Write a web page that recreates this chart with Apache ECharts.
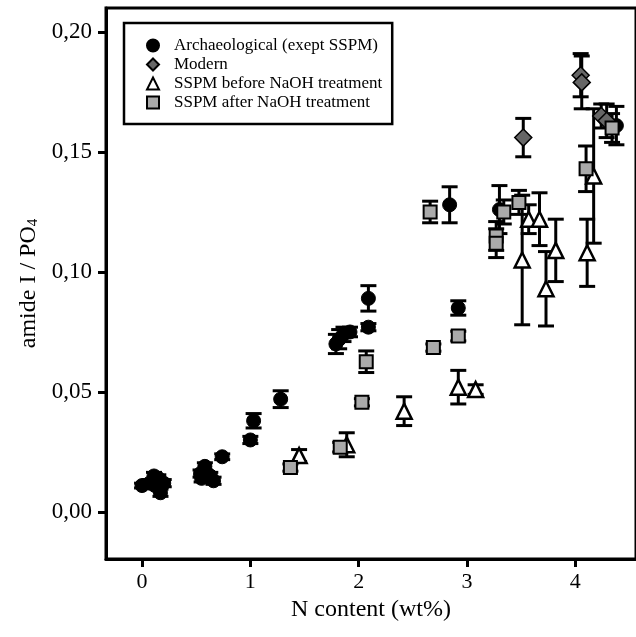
<!DOCTYPE html>
<html>
<head>
<meta charset="utf-8">
<script src="https://cdn.jsdelivr.net/npm/echarts@6/dist/echarts.min.js"></script>
<style>html,body{margin:0;padding:0;background:#fff}#c{width:636px;height:637px}</style>
</head>
<body>
<div id="c"></div>
<script>
// ---- data (N content wt%, amide I / PO4, error) ----
const archX   = [0.00, 0.07, 0.11, 0.15, 0.20, 0.17, 0.12, 0.54, 0.58, 0.55, 0.63, 0.66, 0.74, 1.00, 1.03, 1.28, 1.79, 1.82, 1.86, 1.92, 2.09, 2.09, 2.84, 2.92, 3.30, 4.38];
const archY   = [0.011, 0.012, 0.015, 0.014, 0.012, 0.008, 0.011, 0.016, 0.019, 0.014, 0.015, 0.013, 0.023, 0.030, 0.038, 0.047, 0.070, 0.072, 0.074, 0.075, 0.077, 0.089, 0.128, 0.085, 0.126, 0.161];
const archErr = [0.001, 0.0015, 0.0015, 0.0015, 0.0015, 0.0015, 0.001, 0.0015, 0.0015, 0.0015, 0.0015, 0.0015, 0.0012, 0.0015, 0.003, 0.0035, 0.004, 0.004, 0.003, 0.002, 0.0015, 0.0053, 0.0075, 0.003, 0.010, 0.008];

const modX   = [4.05, 4.06, 3.52, 4.24, 4.29];
const modY   = [0.182, 0.179, 0.156, 0.165, 0.163];
const modErr = [0.009, 0.011, 0.008, 0.005, 0.007];

const befX   = [1.45, 1.89, 2.42, 2.92, 3.08, 3.51, 3.57, 3.67, 3.73, 3.82, 4.11, 4.17];
const befY   = [0.0235, 0.028, 0.042, 0.052, 0.051, 0.105, 0.122, 0.122, 0.093, 0.109, 0.108, 0.140];
const befErr = [0.0025, 0.005, 0.006, 0.007, 0.002, 0.027, 0.006, 0.011, 0.0155, 0.013, 0.014, 0.028];

const aftX   = [1.37, 1.83, 2.03, 2.07, 2.66, 2.69, 2.92, 3.27, 3.27, 3.34, 3.48, 4.10, 4.34];
const aftY   = [0.0185, 0.027, 0.0457, 0.0626, 0.125, 0.0685, 0.0733, 0.115, 0.112, 0.125, 0.129, 0.143, 0.160];
const aftErr = [0.0015, 0.002, 0.0015, 0.0045, 0.0045, 0.0015, 0.002, 0.006, 0.006, 0.005, 0.005, 0.0095, 0.006];

const seriesNames = ['Archaeological (exept SSPM)', 'Modern', 'SSPM before NaOH treatment', 'SSPM after NaOH treatment'];
const xTickValues = [0, 1, 2, 3, 4];
const xTickLabels = ['0', '1', '2', '3', '4'];
const yTickValues = [0, 0.05, 0.10, 0.15, 0.20];
const yTickLabels = ['0,00', '0,05', '0,10', '0,15', '0,20'];

const FONT = "'Liberation Serif','Times New Roman',serif";

function rows(xs, ys, es) { return xs.map((x, i) => [x, ys[i], es[i]]); }

function errSeries(name, data) {
  return {
    name: name + ' err', type: 'custom', data: data,
    encode: { x: 0, y: 1 },
    z: 2,
    renderItem: function (params, api) {
      const x = api.value(0), y = api.value(1), e = api.value(2);
      const top = api.coord([x, y + e]);
      const bot = api.coord([x, y - e]);
      const w = 8;
      const st = { stroke: '#000', lineWidth: 3 };
      return {
        type: 'group',
        children: [
          { type: 'line', shape: { x1: top[0], y1: top[1], x2: bot[0], y2: bot[1] }, style: st },
          { type: 'line', shape: { x1: top[0] - w, y1: top[1], x2: top[0] + w, y2: top[1] }, style: st },
          { type: 'line', shape: { x1: bot[0] - w, y1: bot[1], x2: bot[0] + w, y2: bot[1] }, style: st }
        ]
      };
    }
  };
}

const groups = [
  { data: rows(archX, archY, archErr), symbol: 'circle', size: 14, color: '#000', border: '#000', bw: 1 },
  { data: rows(modX, modY, modErr), symbol: 'diamond', size: 17, color: '#666', border: '#000', bw: 1.5 },
  { data: rows(befX, befY, befErr), symbol: 'triangle', size: 15, color: '#fff', border: '#000', bw: 2.5 },
  { data: rows(aftX, aftY, aftErr), symbol: 'rect', size: 13, color: '#aaa', border: '#000', bw: 2 }
];

const series = [];
groups.forEach((g, i) => {
  series.push(errSeries(seriesNames[i], g.data));
  series.push({
    name: seriesNames[i], type: 'scatter', data: g.data.map(r => [r[0], r[1]]),
    symbol: g.symbol, symbolSize: g.size, z: 3 + i,
    itemStyle: { color: g.color, borderColor: g.border, borderWidth: g.bw, opacity: 1 }
  });
});

const chart = echarts.init(document.getElementById('c'), null, { renderer: 'canvas' });
chart.setOption({
  animation: false,
  backgroundColor: '#fff',
  textStyle: { fontFamily: FONT },
  grid: { left: 106, top: 8, right: -4, bottom: 78, show: true, borderColor: '#000', borderWidth: 3, backgroundColor: 'transparent' },
  legend: {
    data: seriesNames, orient: 'vertical', left: 124, top: 23,
    backgroundColor: '#fff', borderColor: '#000', borderWidth: 2.5, borderRadius: 0,
    padding: [14, 10, 13, 22], itemWidth: 12, itemHeight: 12, itemGap: 2,
    textStyle: { fontFamily: FONT, fontSize: 17, lineHeight: 16, color: '#000', padding: [0, 0, 0, 10] }
  },
  xAxis: {
    type: 'value', min: -0.333, max: 4.561,
    name: 'N content (wt%)', nameLocation: 'middle', nameGap: 31,
    nameTextStyle: { fontFamily: FONT, fontSize: 24, color: '#000' },
    axisLine: { show: true, onZero: false, lineStyle: { color: '#000', width: 3 } },
    axisTick: { show: true, length: 8, lineStyle: { color: '#000', width: 3 }, customValues: xTickValues },
    axisLabel: { customValues: xTickValues, margin: 12, fontFamily: FONT, fontSize: 22, color: '#000',
      formatter: v => xTickLabels[xTickValues.indexOf(v)] },
    splitLine: { show: false }
  },
  yAxis: {
    type: 'value', min: -0.0196, max: 0.21, position: 'left',
    name: '{a|amide I / PO}{s|4}', nameLocation: 'middle', nameGap: 64,
    nameTextStyle: { color: '#000', rich: {
      a: { fontFamily: FONT, fontSize: 24, lineHeight: 24, color: '#000' },
      s: { fontFamily: FONT, fontSize: 15, lineHeight: 15, padding: [12, 0, 0, 0], verticalAlign: 'bottom', color: '#000' }
    } },
    axisLine: { show: true, onZero: false, lineStyle: { color: '#000', width: 3 } },
    axisTick: { show: true, length: 8, lineStyle: { color: '#000', width: 3 }, customValues: yTickValues },
    axisLabel: { customValues: yTickValues, margin: 14, fontFamily: FONT, fontSize: 23, color: '#000',
      formatter: v => { const i = yTickValues.findIndex(t => Math.abs(t - v) < 1e-9); return i >= 0 ? yTickLabels[i] : ''; } },
    splitLine: { show: false }
  },
  series: series
});
</script>
</body>
</html>
